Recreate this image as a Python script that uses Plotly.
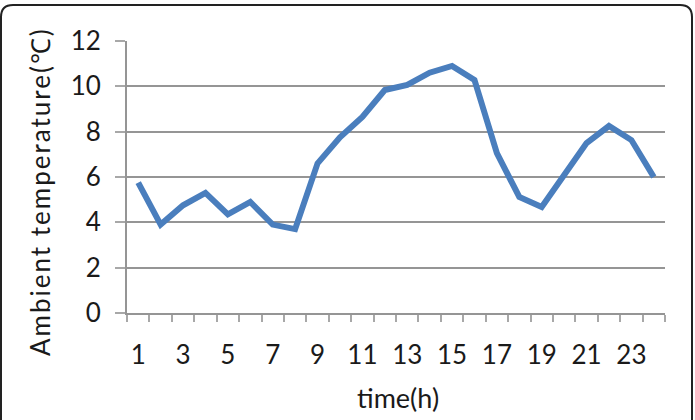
import plotly.graph_objects as go

hours = list(range(1, 25))
temps = [5.75, 3.9, 4.75, 5.3, 4.35, 4.9, 3.9, 3.7, 6.6, 7.75, 8.65, 9.84,
         10.06, 10.6, 10.9, 10.28, 7.05, 5.12, 4.68, 6.05, 7.5, 8.25, 7.63, 6.0]
x_tick_vals = list(range(1, 24, 2))
y_tick_vals = [0, 2, 4, 6, 8, 10, 12]
x_title = "time(h)"
y_title = "Ambient temperature(℃)"

W, H = 695, 420
ML, MR, MT, MB = 127, 30, 41, 107
PW, PH = W - ML - MR, H - MT - MB

def px(x):
    return (x - ML) / PW

def py(y):
    return 1 - (y - MT) / PH

# rounded frame around the chart
l, r, t, b, rad = 1, 692, 5, 430, 12
path = (f"M {px(l+rad)},{py(t)} L {px(r-rad)},{py(t)} Q {px(r)},{py(t)} {px(r)},{py(t+rad)} "
        f"L {px(r)},{py(b)} M {px(l)},{py(b)} L {px(l)},{py(t+rad)} Q {px(l)},{py(t)} {px(l+rad)},{py(t)}")

fig = go.Figure()
fig.add_trace(go.Scatter(x=hours, y=temps, mode="lines",
                         line=dict(color="#4A7EBD", width=6), hoverinfo="skip"))

font_family = "Lato, 'Open Sans', sans-serif"
txt = "#1a1a1a"
grid = "#959595"
fig.update_layout(
    width=W, height=H,
    margin=dict(l=ML, r=MR, t=MT, b=MB),
    paper_bgcolor="white", plot_bgcolor="white",
    showlegend=False,
    font=dict(family=font_family, color=txt),
    shapes=[dict(type="path", xref="paper", yref="paper", path=path,
                 line=dict(color="#222222", width=2), layer="above")],
    annotations=[
        dict(text=x_title, xref="paper", yref="paper", x=px(398), y=py(397),
             xanchor="center", yanchor="middle", showarrow=False,
             font=dict(size=27, family=font_family, color=txt)),
        dict(text=f'<span style="letter-spacing:2px">{y_title}</span>',
             xref="paper", yref="paper", x=px(40), y=py(192), textangle=-90,
             xanchor="center", yanchor="middle", showarrow=False,
             font=dict(size=26, family=font_family, color=txt)),
    ],
)
fig.update_xaxes(
    range=[0.5, 24.5], tickvals=x_tick_vals, ticktext=[str(v) for v in x_tick_vals],
    ticks="", showgrid=False, zeroline=False,
    showline=True, linecolor=grid, linewidth=2,
    tickfont=dict(size=26, family=font_family, color=txt),
    ticklabelstandoff=18,
    minor=dict(tick0=0.5, dtick=1, ticks="outside", ticklen=7, tickwidth=2,
               tickcolor="#a8a8a8", showgrid=False),
)
fig.update_yaxes(
    range=[0, 12], tickvals=y_tick_vals,
    ticks="outside", ticklen=10, tickwidth=2, tickcolor="#a8a8a8",
    showgrid=True, gridcolor=grid, gridwidth=2,
    zeroline=False, showline=True, linecolor=grid, linewidth=2,
    tickfont=dict(size=26, family=font_family, color=txt),
    ticklabelstandoff=9,
)

fig.write_html("out.html")
